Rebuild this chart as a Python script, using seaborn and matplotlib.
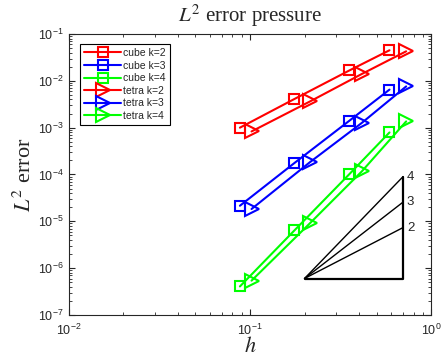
import numpy as np
import pandas as pd
import matplotlib
matplotlib.use("Agg")
import matplotlib.pyplot as plt
import seaborn as sns

# mesh sizes
h_cube = [0.088, 0.176, 0.354, 0.589]
h_tetra = [0.102, 0.215, 0.414, 0.728]

# L2 pressure errors
cube_k2 = [1.0e-3, 4.1e-3, 1.67e-2, 4.5e-2]
cube_k3 = [2.15e-5, 1.76e-4, 1.41e-3, 6.5e-3]
cube_k4 = [4.06e-7, 6.4e-6, 1.02e-4, 7.9e-4]
tetra_k2 = [8.3e-4, 3.65e-3, 1.4e-2, 4.27e-2]
tetra_k3 = [1.83e-5, 1.85e-4, 1.26e-3, 7.6e-3]
tetra_k4 = [5.4e-7, 9.2e-6, 1.16e-4, 1.36e-3]

# slope triangle
tri_h = [0.2, 0.7]
tri_y0 = 6.0e-7
tri_slopes = [2, 3, 4]

sns.set_style("ticks")
plt.rcParams["font.family"] = ["Liberation Sans", "DejaVu Sans"]
plt.rcParams["mathtext.fontset"] = "stix"

fig = plt.figure(figsize=(4.44, 3.62), dpi=100)
ax = fig.add_axes([0.155, 0.130, 0.816, 0.776])

series = [
    ("cube k=2", h_cube, cube_k2, "red", "s", 7),
    ("cube k=3", h_cube, cube_k3, "blue", "s", 7),
    ("cube k=4", h_cube, cube_k4, "#00ff00", "s", 7),
    ("tetra k=2", h_tetra, tetra_k2, "red", ">", 10),
    ("tetra k=3", h_tetra, tetra_k3, "blue", ">", 10),
    ("tetra k=4", h_tetra, tetra_k4, "#00ff00", ">", 10),
]
for label, hx, err, col, mk, ms in series:
    df = pd.DataFrame({"h": hx, "err": err})
    sns.lineplot(data=df, x="h", y="err", ax=ax, color=col, marker=mk,
                 markersize=ms, markerfacecolor="none", markeredgecolor=col,
                 markeredgewidth=1.5, linewidth=1.5, label=label)

# convergence triangle
x0, x1 = tri_h
ratio = x1 / x0
for p in tri_slopes:
    ax.plot([x0, x1], [tri_y0, tri_y0 * ratio ** p], color="black", lw=1.0)
    ax.text(x1 * 1.05, tri_y0 * ratio ** p, str(p), fontsize=9.5,
            va="center", ha="left", color="#262626")
ax.plot([x0, x1, x1], [tri_y0, tri_y0, tri_y0 * ratio ** max(tri_slopes)],
        color="black", lw=1.6)

ax.set_xscale("log")
ax.set_yscale("log")
ax.set_xlim(1e-2, 1)
ax.set_ylim(1e-7, 1e-1)
ax.tick_params(which="both", direction="in", top=True, right=True,
               labelsize=9, colors="#262626", labelcolor="#262626")
ax.tick_params(which="major", length=4)
ax.tick_params(which="minor", length=2)
ax.tick_params(axis="x", pad=6)
for sp in ax.spines.values():
    sp.set_color("#262626")
    sp.set_linewidth(0.8)

serif = ["Liberation Serif", "DejaVu Serif"]
ax.set_title("$L^2$ error pressure", fontsize=15, family=serif, pad=9)
ax.set_xlabel("$h$", fontsize=16, family=serif)
ax.xaxis.set_label_coords(0.5, -0.08)
ax.set_ylabel("$L^2$ error", fontsize=16, family=serif, labelpad=2)

leg = ax.legend(loc="upper left", bbox_to_anchor=(0.03, 0.965), fontsize=7.5,
                frameon=True, fancybox=False, framealpha=1, edgecolor="black",
                handlelength=3.6, labelspacing=0.25, borderpad=0.4,
                handletextpad=0.2, borderaxespad=0)
leg.get_frame().set_linewidth(0.8)

fig.savefig("out.png", dpi=100)
